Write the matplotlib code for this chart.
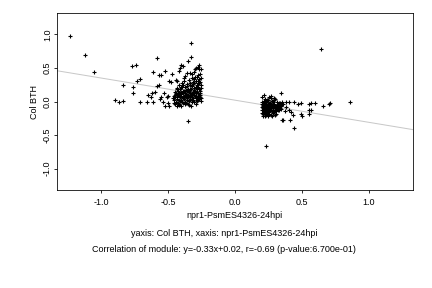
import matplotlib
matplotlib.use("Agg")
import matplotlib.pyplot as plt
import numpy as np

plt.rcParams['font.family'] = ['Liberation Sans', 'DejaVu Sans']

# sparse points, left group
left_x = [-1.23, -1.12, -1.055, -0.90, -0.87, -0.84, -0.84, -0.77, -0.74, -0.76, -0.76, -0.73, -0.71, -0.71,
          -0.66, -0.65, -0.63, -0.62, -0.61, -0.61, -0.60, -0.58, -0.58, -0.57, -0.57, -0.55, -0.56, -0.55,
          -0.54, -0.53, -0.52, -0.51, -0.50, -0.49, -0.49, -0.48, -0.47, -0.52, -0.50, -0.46, -0.45, -0.44,
          -0.43, -0.42, -0.41, -0.40, -0.39, -0.38, -0.37, -0.33, -0.33, -0.35, -0.35, -0.30, -0.29, -0.27,
          -0.28, -0.36, -0.34, -0.32, -0.31, -0.27, -0.28]
left_y = [0.97, 0.69, 0.44, 0.02, 0.00, 0.01, 0.24, 0.53, 0.54, 0.22, 0.13, 0.30, 0.34, 0.00,
          -0.01, 0.10, 0.06, 0.12, 0.44, -0.01, 0.14, 0.65, 0.23, 0.24, 0.39, 0.39, 0.04, 0.06,
          -0.01, 0.13, 0.45, 0.06, 0.08, 0.30, -0.07, 0.29, 0.41, -0.06, -0.02, 0.05, 0.10, 0.32,
          0.30, 0.45, 0.50, 0.54, 0.53, 0.35, 0.38, 0.87, 0.67, 0.60, -0.29, 0.48, 0.50, 0.54,
          0.52, 0.42, 0.42, 0.41, 0.44, 0.48, 0.40]

# dense part of the left group: x positions, and three rows of y values at those x
dense_left_x = [-0.455, -0.448, -0.441, -0.437, -0.432, -0.428, -0.421, -0.417, -0.412, -0.405, -0.401, -0.396,
                -0.392, -0.386, -0.381, -0.377, -0.372, -0.366, -0.362, -0.357, -0.353, -0.347, -0.343, -0.338,
                -0.334, -0.329, -0.325, -0.321, -0.316, -0.312, -0.308, -0.304, -0.299, -0.295, -0.291, -0.287,
                -0.283, -0.279, -0.275, -0.271, -0.267, -0.263, -0.259, -0.255, -0.251]
dense_left_y1 = [0.03, -0.04, 0.11, 0.06, 0.18, -0.02, 0.09, 0.25, 0.01, 0.14, -0.06, 0.21, 0.05, 0.12, 0.30,
                 -0.03, 0.08, 0.17, 0.02, 0.23, 0.10, -0.05, 0.15, 0.28, 0.04, 0.19, 0.07, -0.01, 0.26, 0.12,
                 0.33, 0.00, 0.16, 0.08, 0.22, 0.36, 0.03, 0.13, 0.27, 0.06, 0.19, 0.41, 0.09, 0.24, 0.01]
dense_left_y2 = [0.08, 0.14, -0.01, 0.20, 0.04, 0.10, -0.05, 0.13, 0.19, 0.02, 0.08, 0.27, -0.02, 0.06, 0.15,
                 0.21, 0.00, 0.11, 0.26, 0.05, -0.03, 0.14, 0.32, 0.07, 0.18, -0.06, 0.23, 0.12, 0.03, 0.29,
                 0.09, 0.17, 0.37, 0.05, -0.03, 0.14, 0.25, 0.31, 0.02, 0.10, 0.28, 0.07, 0.16, 0.35, 0.48]
dense_left_y3 = [-0.02, 0.06, 0.13, -0.06, 0.09, 0.16, 0.03, -0.03, 0.07, 0.22, 0.11, 0.00, 0.16, 0.24, 0.04,
                 0.09, 0.13, -0.02, 0.06, 0.15, 0.19, 0.01, 0.08, 0.12, 0.24, 0.10, 0.35, 0.02, 0.14, 0.05,
                 0.20, 0.27, 0.08, 0.30, 0.12, 0.01, 0.18, 0.07, 0.22, 0.34, 0.04, 0.13, 0.29, 0.05, 0.20]

# sparse points, right group
right_x = [0.645, 0.856, 0.71, 0.70, 0.66, 0.60, 0.57, 0.55, 0.55, 0.57, 0.55, 0.50, 0.49, 0.49,
           0.47, 0.44, 0.44, 0.41, 0.43, 0.42, 0.40, 0.40, 0.38, 0.38, 0.37, 0.36, 0.35, 0.34,
           0.36, 0.35, 0.33, 0.30, 0.29, 0.27, 0.23, 0.22, 0.25, 0.31, 0.32, 0.30, 0.28]
right_y = [0.78, -0.01, -0.02, -0.03, -0.07, -0.02, -0.02, -0.03, -0.12, -0.12, -0.19, -0.22, -0.18, -0.02,
           -0.04, 0.00, -0.40, -0.28, -0.20, -0.16, -0.12, -0.01, 0.00, -0.08, -0.14, -0.28, -0.28, 0.12,
           -0.04, -0.01, -0.06, 0.04, 0.05, 0.08, -0.66, 0.10, 0.02, -0.14, -0.10, -0.20, -0.22]

# dense part of the right group
dense_right_x = [0.201, 0.204, 0.208, 0.211, 0.215, 0.218, 0.222, 0.226, 0.229, 0.233, 0.237, 0.241, 0.245,
                 0.249, 0.253, 0.257, 0.262, 0.266, 0.271, 0.276, 0.281, 0.287, 0.293, 0.299, 0.306, 0.313,
                 0.321, 0.329, 0.337, 0.345]
dense_right_y1 = [-0.03, -0.12, -0.19, -0.07, 0.01, -0.15, -0.10, -0.21, -0.04, -0.13, -0.08, -0.18, 0.02,
                  -0.11, -0.06, -0.16, -0.02, -0.09, -0.13, -0.05, -0.17, -0.08, -0.03, -0.12, -0.07, -0.10,
                  -0.04, -0.08, -0.06, -0.11]
dense_right_y2 = [-0.08, -0.17, -0.05, -0.22, -0.11, -0.02, -0.19, -0.06, -0.14, -0.20, 0.03, -0.09, -0.15,
                  -0.03, -0.19, -0.08, -0.12, 0.05, -0.04, -0.14, -0.10, -0.01, -0.15, -0.06, -0.11, 0.00,
                  -0.13, -0.02, -0.09, -0.05]
dense_right_y3 = [0.06, -0.01, -0.09, -0.13, -0.17, -0.07, 0.04, -0.12, -0.18, -0.01, -0.16, -0.05, -0.10,
                  -0.21, -0.02, 0.07, -0.06, -0.20, -0.10, 0.01, -0.07, -0.13, 0.03, -0.09, -0.18, -0.05,
                  -0.08, -0.12, -0.02, -0.07]

slope, intercept = -0.33, 0.02
xticks = [-1.0, -0.5, 0.0, 0.5, 1.0]
yticks = [-1.0, -0.5, 0.0, 0.5, 1.0]
x_label = 'npr1-PsmES4326-24hpi'
y_label = 'Col BTH'
caption1 = 'yaxis: Col BTH, xaxis: npr1-PsmES4326-24hpi'
caption2 = 'Correlation of module: y=-0.33x+0.02, r=-0.69 (p-value:6.700e-01)'

xs = list(left_x) + list(right_x)
ys = list(left_y) + list(right_y)
for row in (dense_left_y1, dense_left_y2, dense_left_y3):
    xs += dense_left_x
    ys += row
for row in (dense_right_y1, dense_right_y2, dense_right_y3):
    xs += dense_right_x
    ys += row

fig = plt.figure(figsize=(6, 4), dpi=72)
ax = fig.add_axes([0.132, 0.340, 0.824, 0.615])
xlim = (-1.33, 1.33)
ylim = (-1.32, 1.32)
lx = np.array(xlim)
ax.plot(lx, slope * lx + intercept, color='#c8c8c8', lw=1.0, zorder=1)
ax.plot(xs, ys, linestyle='none', marker='+', ms=4.5, mew=1.1, color='black', zorder=2)
ax.set_xlim(*xlim)
ax.set_ylim(*ylim)
ax.set_xticks(xticks)
ax.set_yticks(yticks)
ax.set_xticklabels([f"{t:.1f}" for t in xticks])
ax.set_yticklabels([f"{t:.1f}" for t in yticks], rotation=90, va='center')
ax.tick_params(direction='out', length=3, width=0.8, labelsize=9)
ax.tick_params(axis='x', pad=5)
ax.tick_params(axis='y', pad=2)
for s in ax.spines.values():
    s.set_linewidth(0.8)
ax.set_xlabel(x_label, fontsize=9, labelpad=4)
ax.set_ylabel(y_label, fontsize=9, labelpad=4)
fig.text(224 / 432, 1 - 233 / 288, caption1, ha='center', va='center', fontsize=9)
fig.text(224 / 432, 1 - 250 / 288, caption2, ha='center', va='center', fontsize=9)
fig.savefig('out.png', dpi=72)
